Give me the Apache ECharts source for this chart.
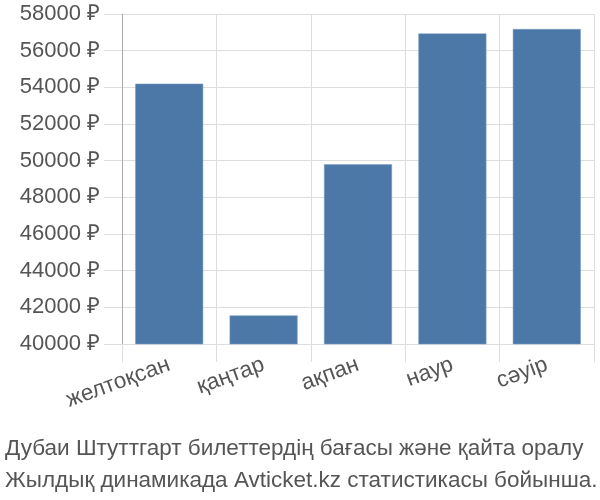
<!DOCTYPE html>
<html><head><meta charset="utf-8">
<script src="https://cdn.jsdelivr.net/npm/echarts@6/dist/echarts.min.js"></script>
<style>html,body{margin:0;padding:0;background:#fff}#c{width:600px;height:500px}</style>
</head><body><div id="c"></div>
<script>
const categories = ['желтоқсан', 'қаңтар', 'ақпан', 'наур', 'сәуір'];
const prices = [54200, 41560, 49800, 56940, 57180];
const titleLines = ['Дубаи Штуттгарт билеттердің бағасы және қайта оралу', 'Жылдық динамикада Avticket.kz статистикасы бойынша.'];
const chart = echarts.init(document.getElementById('c'));
chart.setOption({
  animation: false,
  textStyle: {fontFamily: 'Liberation Sans'},
  title: {
    text: titleLines.join('\n'),
    left: 0, top: 428,
    textStyle: {fontSize: 22.5, fontWeight: 'normal', color: '#555', lineHeight: 32, fontFamily: 'Liberation Sans'}
  },
  grid: {left: 122, right: 6, top: 14, bottom: 156, containLabel: false},
  xAxis: {
    type: 'category', data: categories,
    axisLine: {show: true, lineStyle: {color: '#ddd'}},
    axisTick: {show: true, length: 18, lineStyle: {color: '#ddd'}},
    splitLine: {show: true, lineStyle: {color: '#ddd'}},
    axisLabel: {rotate: 20, fontSize: 22.5, color: '#555', margin: 20, interval: 0}
  },
  yAxis: {
    type: 'value', min: 40000, max: 58000, interval: 2000,
    axisLine: {show: true, lineStyle: {color: '#aaa'}},
    axisTick: {show: true, length: 18, lineStyle: {color: '#ddd'}},
    splitLine: {show: true, lineStyle: {color: '#ddd'}},
    axisLabel: {fontSize: 22, color: '#555', margin: 22, formatter: v => v + ' ₽'}
  },
  series: [{
    type: 'bar', data: prices, barCategoryGap: '28%',
    itemStyle: {color: '#4c78a8', borderColor: '#7a9cc4', borderWidth: 0.5}
  }]
});
</script></body></html>
